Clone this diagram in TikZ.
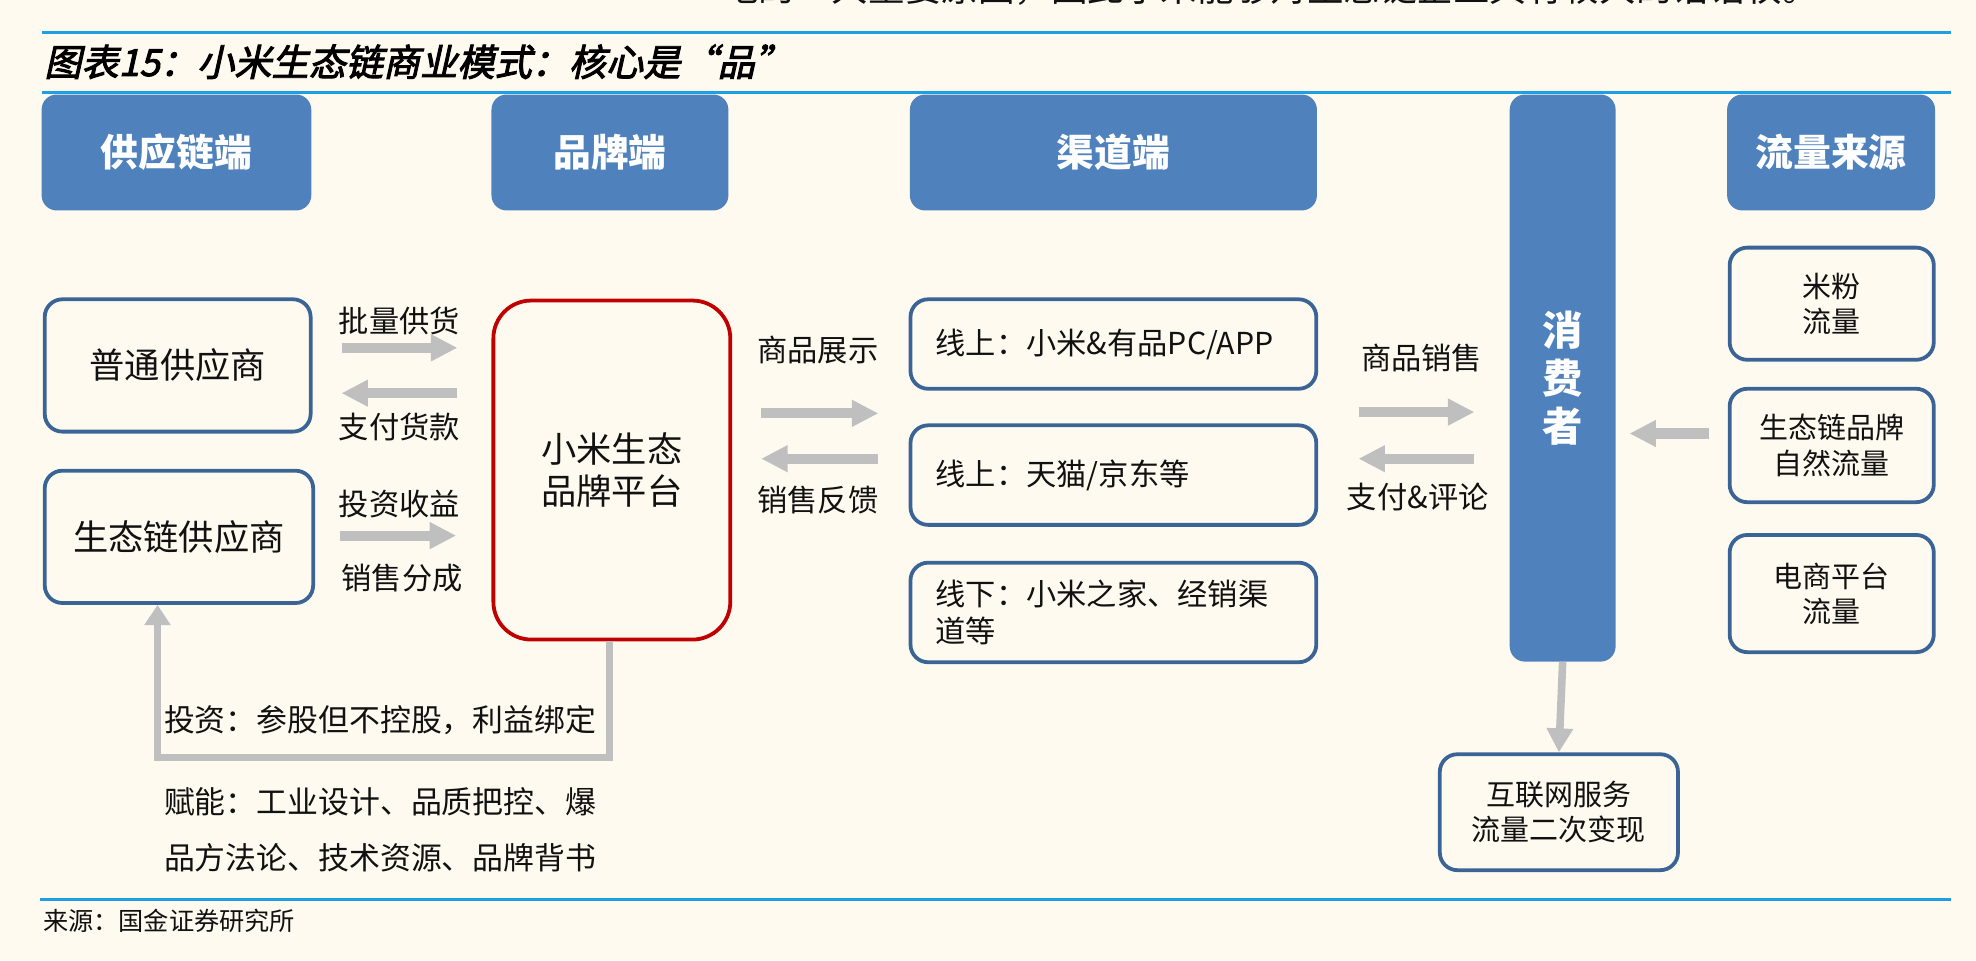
\documentclass[tikz,border=0pt]{standalone}
\usepackage{fontspec}
\setmainfont{Liberation Sans}
\newfontfamily\cjk{Noto Sans CJK SC}
\newfontfamily\cjkttl{Noto Sans CJK SC}[FakeSlant=0.22,FakeBold=2.6]
\usetikzlibrary{arrows.meta}
\definecolor{bgc}{HTML}{FEFAF0}
\definecolor{hdr}{HTML}{4F81BD}
\definecolor{bord}{HTML}{3B6496}
\definecolor{redb}{HTML}{C00000}
\definecolor{arr}{HTML}{BFBFBF}
\definecolor{rulec}{HTML}{1E9FE3}
\definecolor{txt}{HTML}{111111}
\tikzset{
  hdrbox/.style={fill=hdr, draw=none, rounded corners=12pt, inner sep=0pt, text=white,
    font=\cjk\bfseries\fontsize{30}{36}\selectfont},
  ebox/.style={draw=bord, line width=3pt, fill=bgc, rounded corners=14pt, inner sep=0pt,
    text=txt, align=center},
  lbl/.style={text=txt, inner sep=0pt, font=\cjk\fontsize{24}{28}\selectfont},
  blk/.style={draw=arr, line width=8pt, -{Triangle[width=20pt,length=21pt]}},
  conn/.style={draw=arr, line width=5.5pt},
  rulel/.style={draw=rulec, line width=2.6pt}
}
\begin{document}
\begin{tikzpicture}[x=1pt, y=-1pt]
\useasboundingbox (0,0) rectangle (1568,761.8);
\fill[bgc] (0,0) rectangle (1568,761.8);
% cut text at top
\node[anchor=base west, inner sep=0pt, text=txt, font=\cjk\fontsize{29}{30}\selectfont] (toptext) at (573,1.5) {地的一大重要原因，因此小米能够对生态链企业具有较大的话语权。};
% rules
\coordinate (r1a) at (33,26); \coordinate (r1b) at (1548,26);
\coordinate (r2a) at (33,73.5); \coordinate (r2b) at (1548,73.5);
\coordinate (r3a) at (32,713.5); \coordinate (r3b) at (1548,713.5);
\draw[rulel] (r1a) -- (r1b);
\draw[rulel] (r2a) -- (r2b);
\draw[rulel] (r3a) -- (r3b);
% title
\node[anchor=west, inner sep=0pt, text=black, font=\cjkttl\fontsize{29.5}{32}\selectfont] (title) at (35,49) {图表15：小米生态链商业模式：核心是“品”};
% headers
\node[hdrbox, minimum width=214pt, minimum height=92pt] (h1) at (140,121) {供应链端};
\node[hdrbox, minimum width=188pt, minimum height=92pt] (h2) at (484,121) {品牌端};
\node[hdrbox, minimum width=323pt, minimum height=92pt] (h3) at (883.5,121) {渠道端};
\node[hdrbox, minimum width=84pt, minimum height=450pt, align=center,
  font=\cjk\bfseries\fontsize{32}{38}\selectfont] (cons) at (1240,300) {消\\费\\者};
\node[hdrbox, minimum width=165pt, minimum height=92pt] (h5) at (1453,121) {流量来源};
% left boxes
\node[ebox, minimum width=211pt, minimum height=105pt, font=\cjk\fontsize{28}{34}\selectfont] (s1) at (141,290) {普通供应商};
\node[ebox, minimum width=213pt, minimum height=105pt, font=\cjk\fontsize{28}{34}\selectfont] (s2) at (142,426) {生态链供应商};
\node[ebox, draw=redb, rounded corners=30pt, minimum width=188pt, minimum height=269pt,
  font=\cjk\fontsize{28}{34}\selectfont] (plat) at (485.5,373) {小米生态\\品牌平台};
% channel boxes
\node[ebox, minimum width=322pt, minimum height=71pt, text width=282pt, align=left,
  font=\cjk\fontsize{24}{29}\selectfont] (c1) at (883.5,273) {线上：小米\&有品PC/APP};
\node[ebox, minimum width=322pt, minimum height=79pt, text width=282pt, align=left,
  font=\cjk\fontsize{24}{29}\selectfont] (c2) at (883.5,377) {线上：天猫/京东等};
\node[ebox, minimum width=322pt, minimum height=79pt, text width=282pt, align=left,
  font=\cjk\fontsize{24}{29}\selectfont] (c3) at (883.5,486) {线下：小米之家、经销渠\\道等};
% flow boxes
\node[ebox, minimum width=162pt, minimum height=89pt, font=\cjk\fontsize{23}{28}\selectfont] (f1) at (1453.5,241) {米粉\\流量};
\node[ebox, minimum width=162pt, minimum height=90pt, font=\cjk\fontsize{23}{29}\selectfont] (f2) at (1453.5,353.5) {生态链品牌\\自然流量};
\node[ebox, minimum width=162pt, minimum height=93pt, font=\cjk\fontsize{23}{28}\selectfont] (f3) at (1453.5,471) {电商平台\\流量};
\node[ebox, minimum width=189pt, minimum height=92pt, font=\cjk\fontsize{23}{28}\selectfont] (inet) at (1237,644.5) {互联网服务\\流量二次变现};
% labels
\node[lbl] (l1) at (317,255) {批量供货};
\node[lbl] (l2) at (317,339) {支付货款};
\node[lbl] (l3) at (317,400) {投资收益};
\node[lbl] (l4) at (319,459) {销售分成};
\node[lbl] (l5) at (649,278) {商品展示};
\node[lbl] (l6) at (649,397) {销售反馈};
\node[lbl] (l7) at (1128,284) {商品销售};
\node[lbl] (l8) at (1125,394) {支付\&评论};
% block arrows
\coordinate (a1s) at (271,276); \coordinate (a1e) at (363,276);
\coordinate (a2s) at (363,312); \coordinate (a2e) at (271,312);
\coordinate (a3s) at (270,425); \coordinate (a3e) at (362,425);
\coordinate (a4s) at (604,328); \coordinate (a4e) at (697,328);
\coordinate (a5s) at (697,364); \coordinate (a5e) at (604,364);
\coordinate (a6s) at (1078,327); \coordinate (a6e) at (1170,327);
\coordinate (a7s) at (1170,364); \coordinate (a7e) at (1078,364);
\coordinate (a8s) at (1356,344); \coordinate (a8e) at (1293,344);
\draw[blk] (a1s) -- (a1e);
\draw[blk] (a2s) -- (a2e);
\draw[blk] (a3s) -- (a3e);
\draw[blk] (a4s) -- (a4e);
\draw[blk] (a5s) -- (a5e);
\draw[blk] (a6s) -- (a6e);
\draw[blk] (a7s) -- (a7e);
\draw[blk] (a8s) -- (a8e);
% L connector
\coordinate (lc1) at (484,601);
\coordinate (lc2) at (125,601);
\draw[conn, -{Triangle[width=20pt,length=16pt]}] (plat.south -| lc1) -- (lc1) -- (lc2) -- (lc2 |- s2.south);
% down arrow
\draw[conn, line width=6pt, -{Triangle[width=20pt,length=19pt]}] (cons.south) -- (inet.north);
% bottom texts
\node[anchor=west, inner sep=0pt, text=txt, font=\cjk\fontsize{24.5}{28}\selectfont] (inv) at (130,571) {投资：参股但不控股，利益绑定};
\node[anchor=west, inner sep=0pt, align=left, text=txt, font=\cjk\fontsize{24.5}{45}\selectfont] (fn) at (130,658.5) {赋能：工业设计、品质把控、爆\\品方法论、技术资源、品牌背书};
\node[anchor=west, inner sep=0pt, text=txt, font=\cjk\fontsize{20}{24}\selectfont] (src) at (34,731) {来源：国金证券研究所};
\end{tikzpicture}
\end{document}
